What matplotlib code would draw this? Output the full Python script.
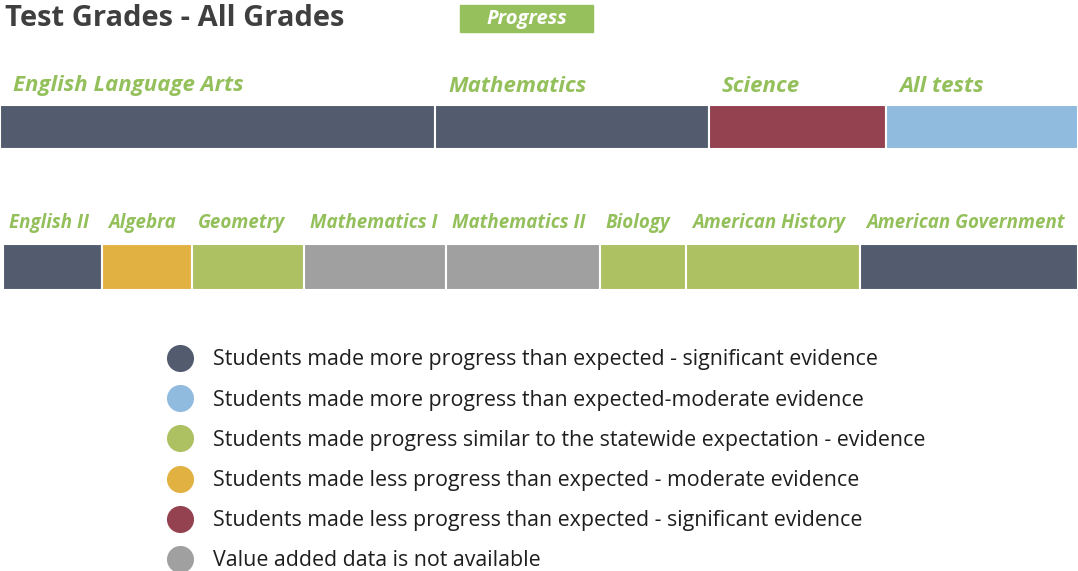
import matplotlib
matplotlib.use("Agg")
from matplotlib import pyplot as plt
import numpy as np

# subject groups (top row) and courses (bottom row), widths in pixels of bar share
groups = ["English Language Arts", "Mathematics", "Science", "All tests"]
group_widths = [435, 274, 177, 192]
group_status = ["sig_more", "sig_more", "sig_less", "mod_more"]

courses = ["English II", "Algebra", "Geometry", "Mathematics I", "Mathematics II",
           "Biology", "American History", "American Government"]
course_widths = [99, 90, 112, 142, 154, 86, 174, 218]
course_status = ["sig_more", "mod_less", "similar", "na", "na",
                 "similar", "similar", "sig_more"]

legend_keys = ["sig_more", "mod_more", "similar", "mod_less", "sig_less", "na"]
legend_labels = [
    "Students made more progress than expected - significant evidence",
    "Students made more progress than expected-moderate evidence",
    "Students made progress similar to the statewide expectation - evidence",
    "Students made less progress than expected - moderate evidence",
    "Students made less progress than expected - significant evidence",
    "Value added data is not available",
]

colors = {
    "sig_more": "#525c6e",
    "mod_more": "#90bbdf",
    "similar": "#adc162",
    "mod_less": "#e1b142",
    "sig_less": "#944150",
    "na": "#a0a0a0",
}
label_green = "#94c05c"

plt.rcParams['font.family'] = ['Open Sans', 'DejaVu Sans']

fig = plt.figure(figsize=(10.78, 5.71), dpi=100)
ax = fig.add_axes([0, 0, 1, 1])
ax.set_xlim(0, 1078)
ax.set_ylim(571, 0)
ax.axis("off")

# title + badge
ax.text(5, 18, "Test Grades - All Grades", fontsize=21, fontweight="bold",
        color="#3f3f3f", va="center", ha="left")
ax.add_patch(plt.Rectangle((460, 5), 133, 27, color="#96c05b"))
ax.text(527, 19, "Progress", fontsize=14.5, fontweight="bold", fontstyle="italic",
        color="white", va="center", ha="center")

def draw_row(names, widths, status, y, h, x0, fs, off, ty):
    lefts = x0 + np.concatenate([[0], np.cumsum(widths)[:-1]])
    ax.barh([y] * len(widths), widths, left=lefts, height=h,
            color=[colors[s] for s in status], edgecolor="white",
            linewidth=1.5, align="edge")
    for name, l in zip(names, lefts):
        ax.text(l + off, ty, name, fontsize=fs, fontweight="bold",
                fontstyle="italic", color=label_green, va="center", ha="left")

draw_row(groups, group_widths, group_status, 105, 44, 0, 16, 13, 86)
draw_row(courses, course_widths, course_status, 244, 46, 3, 13.5, 6, 223)

# legend
for i, (k, lab) in enumerate(zip(legend_keys, legend_labels)):
    yy = 358 + i * 40.2
    ax.scatter([180], [yy], s=380, color=colors[k], linewidths=0)
    ax.text(213, yy + 2, lab, fontsize=15.4, color="#1e1e1e", va="center", ha="left")

fig.savefig("out.png", dpi=100)
